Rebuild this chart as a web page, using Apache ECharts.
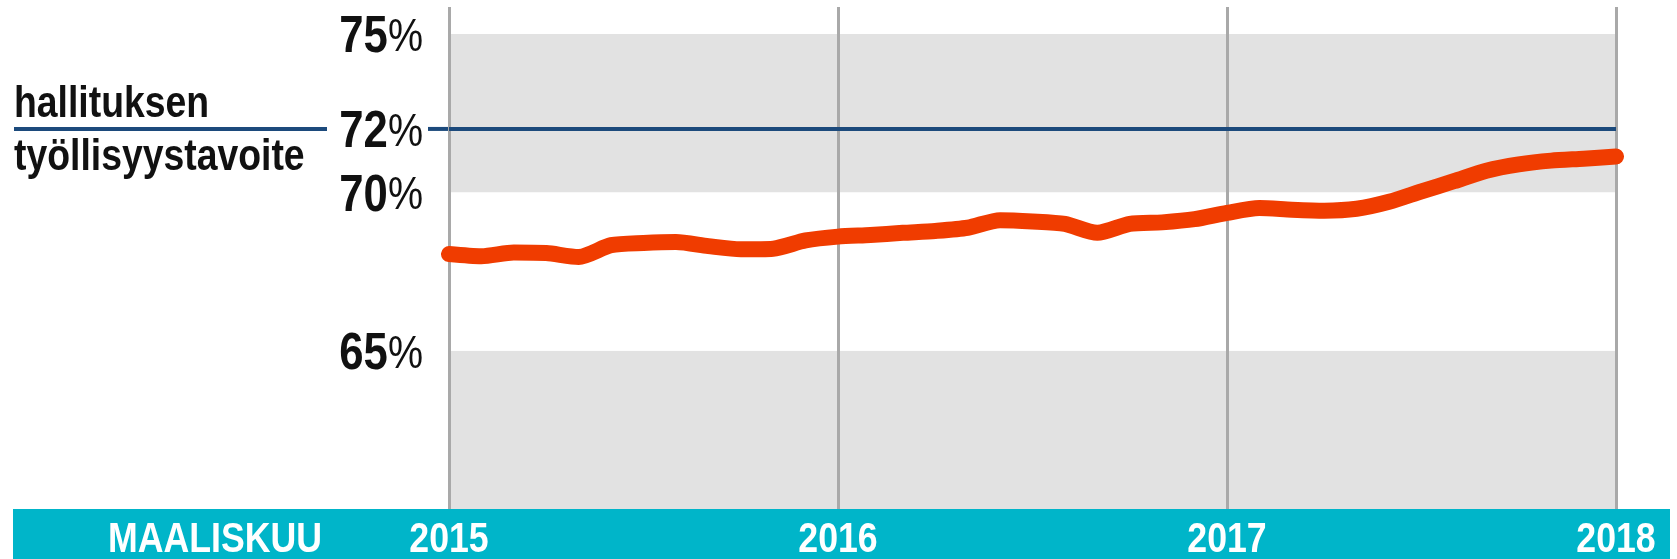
<!DOCTYPE html>
<html>
<head>
<meta charset="utf-8">
<title>Työllisyysaste</title>
<script src="https://cdn.jsdelivr.net/npm/echarts@6/dist/echarts.min.js"></script>
<style>
  html, body { margin: 0; padding: 0; background: #fff; }
  #chart { width: 1677px; height: 559px; }
</style>
</head>
<body>
<div id="chart"></div>
<script>
// kuukaudet maaliskuu 2015 - maaliskuu 2018
const months = [
  '2015-03', '2015-04', '2015-05', '2015-06', '2015-07', '2015-08', '2015-09', '2015-10', '2015-11', '2015-12',
  '2016-01', '2016-02', '2016-03', '2016-04', '2016-05', '2016-06', '2016-07', '2016-08', '2016-09', '2016-10',
  '2016-11', '2016-12', '2017-01', '2017-02', '2017-03', '2017-04', '2017-05', '2017-06', '2017-07', '2017-08',
  '2017-09', '2017-10', '2017-11', '2017-12', '2018-01', '2018-02', '2018-03'
]
// työllisyysaste, %
const rate = [
  68.05, 67.98, 68.1, 68.08, 67.96, 68.33, 68.4, 68.43, 68.3, 68.2,
  68.22, 68.48, 68.6, 68.65, 68.72, 68.78, 68.88, 69.12, 69.08, 69.0,
  68.72, 69.0, 69.05, 69.15, 69.35, 69.5, 69.45, 69.42, 69.48, 69.7,
  70.03, 70.35, 70.68, 70.88, 71.0, 71.06, 71.13
]
const yTicks = [65, 70, 72, 75]
const yearTicks = ['2015-03', '2016-03', '2017-03', '2018-03']
const yearLabels = ['2015', '2016', '2017', '2018']
const target = 72

// kapea fontti ei ole asennettu -> puristetaan tekstiä vaakasuunnassa
const font = '"Liberation Sans", Arial, sans-serif'
const squeeze = 0.83

const chart = echarts.init(document.getElementById('chart'))

chart.setOption({
  animation: false,
  grid: { left: 449, right: 61, top: 7, bottom: 50 },
  xAxis: {
    type: 'category',
    data: months,
    boundaryGap: false,
    z: 1,
    axisLine: { show: false },
    axisTick: { show: false },
    axisLabel: { show: false },
    splitLine: {
      show: true,
      interval: 11,
      lineStyle: { color: '#a9a9a9', width: 3 }
    }
  },
  yAxis: {
    type: 'value',
    min: 60,
    max: 75.85,
    interval: 5,
    z: 0,
    axisLine: { show: false },
    axisTick: { show: false },
    axisLabel: { show: false },
    splitLine: { show: false },
    splitArea: {
      show: true,
      areaStyle: { color: ['#e2e2e2', '#ffffff'] }
    }
  },
  series: [{
    type: 'line',
    data: rate,
    smooth: 0.25,
    showSymbol: false,
    z: 3,
    lineStyle: { color: '#f03c00', width: 16, cap: 'round', join: 'round' },
    markLine: {
      silent: true,
      symbol: 'none',
      label: { show: false },
      lineStyle: { color: '#1c4a7c', width: 4, type: 'solid' },
      data: [{ yAxis: target }]
    }
  }]
})

const ty = chart.convertToPixel({ yAxisIndex: 0 }, target)
const graphics = [
  {
    type: 'rect', z: -1,
    shape: { x: 13, y: 509, width: 1657, height: 50 },
    style: { fill: '#00b5c9' }
  },
  {
    type: 'text', x: 108, y: 519, scaleX: squeeze,
    style: { text: 'MAALISKUU', fill: '#fff', font: 'bold 43px ' + font, verticalAlign: 'top' }
  },
  {
    type: 'line',
    shape: { x1: 14, y1: ty, x2: 327, y2: ty },
    style: { stroke: '#1c4a7c', lineWidth: 4 }
  },
  {
    type: 'line',
    shape: { x1: 428, y1: ty, x2: 449, y2: ty },
    style: { stroke: '#1c4a7c', lineWidth: 4 }
  },
  {
    type: 'text', x: 14, y: 82, scaleX: squeeze,
    style: { text: 'hallituksen', fill: '#111', font: 'bold 45px ' + font, verticalAlign: 'top' }
  },
  {
    type: 'text', x: 14, y: 135, scaleX: squeeze,
    style: { text: 'työllisyystavoite', fill: '#111', font: 'bold 45px ' + font, verticalAlign: 'top' }
  }
]

// y-akselin tekstit
yTicks.forEach(v => {
  graphics.push({
    type: 'text',
    x: 423,
    y: chart.convertToPixel({ yAxisIndex: 0 }, v) + 4,
    scaleX: 0.84,
    style: {
      text: '{n|' + v + '}{p|%}',
      align: 'right',
      verticalAlign: 'middle',
      rich: {
        n: { fontFamily: font, fontWeight: 'bold', fontSize: 52, fill: '#111' },
        p: { fontFamily: font, fontSize: 47, fill: '#111' }
      }
    }
  })
})

// x-akselin vuodet
yearTicks.forEach((m, i) => {
  graphics.push({
    type: 'text',
    x: chart.convertToPixel({ xAxisIndex: 0 }, m),
    y: 519,
    scaleX: squeeze,
    style: {
      text: yearLabels[i],
      fill: '#fff',
      font: 'bold 43px ' + font,
      align: 'center',
      verticalAlign: 'top'
    }
  })
})

chart.setOption({ graphic: graphics })
</script>
</body>
</html>
